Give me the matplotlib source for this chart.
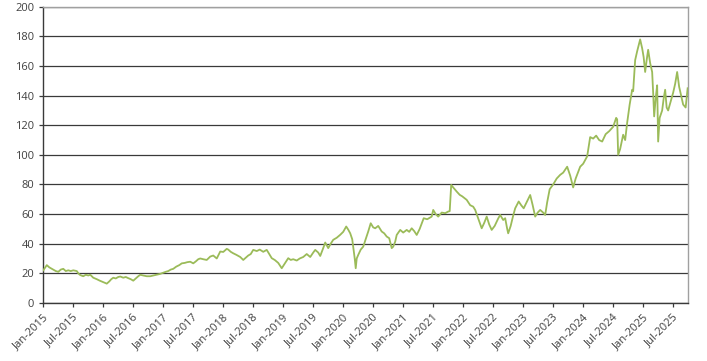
import numpy as np
import pandas as pd
import matplotlib
matplotlib.use("Agg")
import matplotlib.pyplot as plt
import matplotlib.dates as mdates

# months elapsed since 1 Jan 2015, and the price
months = [
    0.0, 0.3, 0.7, 1.2, 2.0, 2.5, 3.0, 3.5, 4.0, 4.5, 5.0, 5.5, 6.0, 6.7, 7.0, 7.3, 7.6, 8.0, 8.5, 9.0,
    9.4, 10.0, 10.7, 11.3, 12.0, 12.4, 12.7, 13.2, 13.6, 14.0, 14.5, 15.0, 15.4, 16.0, 16.5, 17.0, 17.5, 18.0, 18.5, 19.0,
    19.4, 20.0, 20.7, 21.4, 22.0, 22.7, 23.3, 24.0, 24.5, 25.0, 25.5, 26.0, 26.6, 27.2, 27.7, 28.3, 28.8, 29.4, 30.0, 30.5,
    31.0, 31.4, 32.0, 32.7, 33.4, 34.0, 34.7, 35.4, 36.0, 36.7, 37.0, 37.5, 38.0, 38.6, 39.4, 40.0, 40.5, 41.0, 41.5, 42.0,
    42.7, 43.3, 44.0, 44.7, 45.2, 45.7, 46.3, 47.0, 47.7, 48.2, 48.6, 49.0, 49.5, 50.0, 50.7, 51.3, 52.0, 52.7, 53.4, 54.0,
    54.4, 55.0, 55.4, 56.0, 56.4, 57.0, 57.5, 58.0, 58.7, 59.4, 60.0, 60.6, 61.0, 61.4, 61.8, 62.0, 62.3, 62.5, 62.7, 63.0,
    63.5, 64.0, 64.5, 65.0, 65.5, 66.0, 66.4, 67.0, 67.7, 68.2, 68.7, 69.2, 69.7, 70.0, 70.4, 70.7, 71.4, 72.0, 72.7, 73.2,
    73.7, 74.2, 74.7, 75.3, 76.1, 76.8, 77.7, 78.0, 78.5, 79.0, 79.7, 80.4, 81.0, 81.3, 81.6, 82.0, 82.7, 83.3, 83.8, 84.7,
    85.4, 86.0, 86.4, 87.0, 87.7, 88.2, 88.7, 89.2, 89.7, 90.3, 91.0, 91.4, 92.0, 92.4, 92.8, 93.0, 93.5, 94.0, 94.4, 95.1,
    95.6, 96.1, 96.7, 97.4, 97.9, 98.4, 98.9, 99.4, 100.0, 100.4, 100.8, 101.3, 102.0, 102.7, 103.4, 104.0, 104.8, 105.4, 106.0, 106.5,
    107.4, 108.0, 108.8, 109.2, 109.4, 110.0, 110.6, 111.2, 111.8, 112.5, 113.2, 114.0, 114.6, 114.8, 115.0, 115.4, 116.0, 116.4, 116.8, 117.3,
    117.8, 118.0, 118.4, 118.8, 119.4, 119.8, 120.1, 120.4, 120.7, 121.0, 121.4, 121.8, 122.0, 122.2, 122.5, 122.8, 123.0, 123.3, 123.8, 124.1,
    124.4, 124.7, 125.0, 125.5, 126.0, 126.4, 126.8, 127.2, 127.6, 128.0, 128.5, 128.9,
]
prices = [
    22, 23.5, 25.5, 24, 22.5, 21.5, 21, 22.5, 23, 21.5, 22, 21.5, 22, 21.5, 20, 19, 18.5, 18, 19, 18.5,
    19, 17, 16, 15, 14, 13.5, 13, 14.5, 16, 17, 16.5, 17.5, 17.8, 17, 17.5, 16.7, 16, 15, 16.5, 18,
    19, 18.5, 18, 18, 18.5, 19, 19.5, 20.4, 21, 21.5, 22.5, 23, 24.5, 25.5, 26.7, 27, 27.5, 27.8, 26.7, 28,
    29.5, 30, 29.5, 29, 31.3, 32, 30, 34.7, 34.4, 36.5, 36, 34.5, 33.5, 32.5, 31, 29, 30.5, 32, 33, 35.8,
    35, 36, 34.5, 35.8, 33, 30.2, 29, 27, 23.4, 26, 28, 30.2, 29, 29.5, 28.6, 30, 31, 33, 31, 34,
    35.8, 34, 31.7, 37, 40.8, 37, 40, 42.6, 44, 46, 48, 51.6, 49.5, 47, 43, 38, 30, 23.4, 30, 32.4,
    36, 38, 43, 48.2, 53.8, 51, 50.4, 52, 48.2, 47, 44.8, 43.7, 37, 38, 41.4, 45.9, 49.3, 47.5, 49.3, 48,
    50.4, 48.5, 45.9, 50, 57.2, 56.5, 58.3, 62.8, 60, 58.3, 61, 60.6, 61.7, 62, 79.7, 78, 75.2, 73, 72, 69.6,
    66, 65, 62.8, 57, 50.4, 54, 58.3, 53, 49.3, 52, 57, 59.4, 56, 57.2, 50, 47, 52, 59, 63.9, 68.5,
    66, 63.9, 68, 72.9, 66, 58.3, 61, 62.8, 61, 59.4, 68, 76.8, 80, 84, 86.5, 88, 92, 86, 78, 84,
    92, 94, 99, 108, 112, 111, 113, 110, 109, 114, 116, 119, 125, 124, 100, 104, 113.6, 110, 121.7, 134,
    144, 143, 164, 170, 178, 172, 166, 156, 164, 171, 162, 156, 142, 126, 138, 147, 109, 125, 130, 138,
    144, 132, 130, 136, 142, 148, 156, 146, 140, 134, 132, 145,
]

dates = pd.Timestamp("2015-01-02") + pd.to_timedelta(np.array(months) * 30.4375, unit="D")

plt.rcParams["font.family"] = ["Open Sans", "DejaVu Sans"]

fig = plt.figure(figsize=(7.07, 3.61), dpi=100)
ax = fig.add_axes([0.061, 0.161, 0.912, 0.82])

ax.plot(dates, prices, color="#9BBB59", lw=1.3, zorder=3)

ax.set_ylim(0, 200)
ax.set_yticks(range(0, 201, 20))
ax.set_xlim(pd.Timestamp("2015-01-01"), pd.Timestamp("2025-10-01"))
ax.xaxis.set_major_locator(mdates.MonthLocator(bymonth=[1, 7]))
ax.xaxis.set_major_formatter(mdates.DateFormatter("%b-%Y"))

ax.grid(axis="y", color="#3a3a3a", lw=0.9)
ax.set_axisbelow(True)

for s in ["left", "bottom"]:
    ax.spines[s].set_color("#3a3a3a")
    ax.spines[s].set_linewidth(1.0)
for s in ["top", "right"]:
    ax.spines[s].set_color("#a0a0a0")
    ax.spines[s].set_linewidth(1.0)

ax.tick_params(axis="both", colors="#3a3a3a", labelcolor="#404040", labelsize=8, length=3, width=0.9)
plt.setp(ax.get_xticklabels(), rotation=45, ha="right", rotation_mode="anchor")

fig.savefig("out.png", dpi=100)
